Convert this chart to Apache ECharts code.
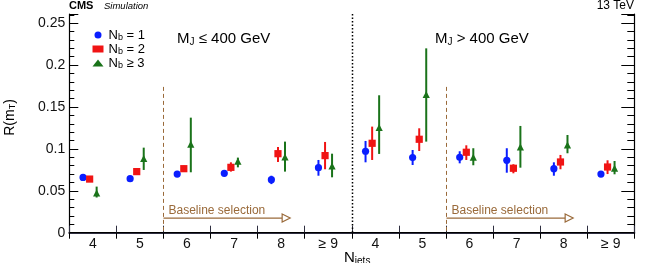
<!DOCTYPE html>
<html>
<head>
<meta charset="utf-8">
<script src="https://cdn.jsdelivr.net/npm/echarts@6/dist/echarts.min.js"></script>
<style>
html,body{margin:0;padding:0;background:#fff;}
#chart{width:648px;height:263px;}
</style>
</head>
<body>
<div id="chart"></div>
<script>
// ---- data ----
const categories = ['4', '5', '6', '7', '8', '≥ 9', '4', '5', '6', '7', '8', '≥ 9'];
const yTicks = [0, 0.05, 0.1, 0.15, 0.2, 0.25];

const nb1Val = [0.066, 0.0645, 0.070, 0.0709, 0.0633, 0.0776, 0.0972, 0.0896, 0.090, 0.0864, 0.0764, 0.070];
const nb1Lo  = [0.064, 0.062, 0.0675, 0.068, 0.058, 0.068, 0.084, 0.0808, 0.0828, 0.0716, 0.068, 0.067];
const nb1Hi  = [0.068, 0.067, 0.0725, 0.074, 0.068, 0.0868, 0.1095, 0.0987, 0.0972, 0.1008, 0.084, 0.073];

const nb2Val = [0.064, 0.0729, 0.0764, 0.078, 0.0943, 0.092, 0.1067, 0.1115, 0.096, 0.0769, 0.0844, 0.0784];
const nb2Lo  = [0.061, 0.070, 0.073, 0.0729, 0.0844, 0.0757, 0.0868, 0.0975, 0.0868, 0.0709, 0.0757, 0.070];
const nb2Hi  = [0.067, 0.076, 0.080, 0.084, 0.1023, 0.1083, 0.1266, 0.1246, 0.1043, 0.0817, 0.0928, 0.0864];

const nb3Val = [0.0466, 0.0876, 0.1047, 0.0844, 0.0896, 0.0788, 0.1246, 0.164, 0.0892, 0.1015, 0.1039, 0.076];
const nb3Lo  = [0.042, 0.0749, 0.0721, 0.078, 0.0729, 0.0661, 0.094, 0.1087, 0.0805, 0.0776, 0.0948, 0.0697];
const nb3Hi  = [0.055, 0.1015, 0.1373, 0.0896, 0.1087, 0.0943, 0.164, 0.220, 0.1008, 0.1274, 0.1166, 0.0856];

// boundaries (between category i and i+1)
const separatorAfter = [5];
const baselineAfter = [1, 7];

// ---- styling ----
const FONT = 'Liberation Sans, Arial, Helvetica, sans-serif';
const BLUE = '#0a1eff', RED = '#f01414', GREEN = '#1a731a', BROWN = '#9a6a3a';
const YMAX = 0.261;

function pointSeries(name, vals, lo, hi, color, shape, dx) {
  return {
    type: 'custom',
    name: name,
    xAxisIndex: 0, yAxisIndex: 0,
    itemStyle: { color: color },
    z: 5,
    data: vals.map((v, i) => [i, v, lo[i], hi[i]]),
    renderItem: function (params, api) {
      const x = api.value(0);
      const p = api.coord([x, api.value(1)]);
      const l = api.coord([x, api.value(2)]);
      const h = api.coord([x, api.value(3)]);
      const cx = p[0] + dx, cy = p[1];
      let marker;
      if (shape === 'circle') {
        marker = { type: 'circle', shape: { cx: cx, cy: cy, r: 3.6 }, style: { fill: color } };
      } else if (shape === 'rect') {
        marker = { type: 'rect', shape: { x: cx - 3.6, y: cy - 3.6, width: 7.2, height: 7.2 }, style: { fill: color } };
      } else {
        marker = { type: 'polygon', shape: { points: [[cx, cy - 4.2], [cx - 3.6, cy + 2.8], [cx + 3.6, cy + 2.8]] }, style: { fill: color } };
      }
      return {
        type: 'group',
        children: [
          { type: 'line', shape: { x1: cx, y1: l[1], x2: cx, y2: h[1] }, style: { stroke: color, lineWidth: 2 } },
          marker
        ]
      };
    }
  };
}

const decoSeries = {
  type: 'custom',
  name: 'deco',
  silent: true,
  z: 2,
  data: [0],
  renderItem: function (params, api) {
    const cs = params.coordSys;
    const children = [];
    const bx = i => (api.coord([i, 0])[0] + api.coord([i + 1, 0])[0]) / 2;
    separatorAfter.forEach(i => {
      const x = Math.round(bx(i)) + 0.5;
      children.push({ type: 'line', shape: { x1: x, y1: cs.y, x2: x, y2: cs.y + cs.height },
        style: { stroke: '#000', lineWidth: 1.5, lineDash: [1.5, 2] } });
    });
    const bw = api.size([1, 0])[0];
    baselineAfter.forEach(i => {
      const x = Math.round(bx(i)) + 0.5;
      const yTop = api.coord([i, 0.174])[1];
      const y0 = api.coord([i, 0])[1];
      const yA = api.coord([i, 0.0175])[1];
      const xEnd = x + bw * 2.69;
      children.push({ type: 'line', shape: { x1: x, y1: yTop, x2: x, y2: y0 },
        style: { stroke: BROWN, lineWidth: 1, lineDash: [4, 3] } });
      children.push({ type: 'line', shape: { x1: x, y1: yA, x2: xEnd - 8, y2: yA },
        style: { stroke: BROWN, lineWidth: 1.2 } });
      children.push({ type: 'polygon', shape: { points: [[xEnd - 8, yA - 4], [xEnd, yA], [xEnd - 8, yA + 4]] },
        style: { fill: '#fff', stroke: BROWN, lineWidth: 1.2 } });
      children.push({ type: 'text', x: x + 5, y: yA - 1.5,
        style: { text: 'Baseline selection', font: '12px ' + FONT, fill: BROWN, align: 'left', verticalAlign: 'bottom' } });
    });
    return { type: 'group', children: children };
  }
};

const chart = echarts.init(document.getElementById('chart'), null, { renderer: 'canvas' });

const legendNames = { nb1: 'N{sub|b} = 1', nb2: 'N{sub|b} = 2', nb3: 'N{sub|b} ≥ 3' };

chart.setOption({
  animation: false,
  backgroundColor: '#fff',
  textStyle: { fontFamily: FONT },
  grid: { left: 69.3, right: 13.7, top: 14, bottom: 30.3, containLabel: false },
  legend: {
    orient: 'vertical',
    left: 87.5, top: 23.5,
    itemWidth: 11, itemHeight: 7, itemGap: 0,
    data: [{ name: 'nb1', icon: 'circle' }, { name: 'nb2', icon: 'rect' }, { name: 'nb3', icon: 'triangle' }],
    formatter: n => legendNames[n],
    textStyle: {
      fontSize: 13, color: '#000', fontFamily: FONT, lineHeight: 13,
      rich: { sub: { fontSize: 9, fontFamily: FONT, color: '#000', padding: [6, 0, 0, 0] } }
    },
    selectedMode: false
  },
  xAxis: [
    {
      type: 'category', data: categories, position: 'bottom', boundaryGap: true,
      axisLine: { show: true, lineStyle: { color: '#2e2e40', width: 2 } },
      axisTick: { show: true, inside: true, length: 7, lineStyle: { color: '#2e2e40', width: 1 } },
      axisLabel: { fontSize: 14, color: '#111', margin: 4, fontFamily: FONT, interval: 0 },
      splitLine: { show: false }
    },
    {
      type: 'category', data: categories, position: 'top', boundaryGap: true,
      axisLine: { show: true, lineStyle: { color: '#000', width: 1 } },
      axisTick: { show: true, inside: true, length: 6, lineStyle: { color: '#000', width: 1 } },
      axisLabel: { show: false },
      splitLine: { show: false }
    }
  ],
  yAxis: [
    {
      type: 'value', min: 0, max: YMAX, interval: 0.05, position: 'left',
      axisLine: { show: true, lineStyle: { color: '#000', width: 1.2 } },
      axisTick: { show: true, inside: true, length: 9, lineStyle: { color: '#000' } },
      minorTick: { show: true, splitNumber: 5, length: 5, lineStyle: { color: '#000' } },
      axisLabel: {
        fontSize: 14, color: '#111', margin: 4, fontFamily: FONT, showMaxLabel: false,
        formatter: v => (yTicks.some(t => Math.abs(t - v) < 1e-9) ? String(+v.toFixed(2)) : '')
      },
      splitLine: { show: false }
    },
    {
      type: 'value', min: 0, max: YMAX, interval: 0.05, position: 'right',
      axisLine: { show: true, lineStyle: { color: '#000', width: 1.2 } },
      axisTick: { show: true, inside: true, length: 13, lineStyle: { color: '#000' } },
      minorTick: { show: true, splitNumber: 5, length: 7, lineStyle: { color: '#000' } },
      axisLabel: { show: false },
      splitLine: { show: false }
    }
  ],
  graphic: [
    { type: 'text', left: 69, top: 0, style: { text: 'CMS', font: 'bold 11px ' + FONT, fill: '#000' } },
    { type: 'text', left: 104, top: 1.5, style: { text: 'Simulation', font: 'italic 9.5px ' + FONT, fill: '#000' } },
    { type: 'text', right: 14, top: 0, style: { text: '13 TeV', font: '12px ' + FONT, fill: '#000' } },
    { type: 'text', left: 177, top: 31, style: { text: 'M{sub|J} ≤ 400 GeV', font: '15px ' + FONT, fill: '#000',
        rich: { sub: { fontSize: 10, fontFamily: FONT, padding: [7, 0, 0, 0] } } } },
    { type: 'text', left: 435, top: 31, style: { text: 'M{sub|J} > 400 GeV', font: '15px ' + FONT, fill: '#000',
        rich: { sub: { fontSize: 10, fontFamily: FONT, padding: [7, 0, 0, 0] } } } },
    { type: 'text', left: 344, top: 250, style: { text: 'N{sub|jets}', font: '15px ' + FONT, fill: '#000',
        rich: { sub: { fontSize: 10, fontFamily: FONT, padding: [7, 0, 0, 0] } } } },
    { type: 'text', x: 10, y: 117.5, rotation: Math.PI / 2,
      style: { text: 'R(m{sub|T})', font: '14px ' + FONT, fill: '#000', align: 'center', verticalAlign: 'middle',
        rich: { sub: { fontSize: 9, fontFamily: FONT, padding: [6, 0, 0, 0] } } } }
  ],
  series: [
    decoSeries,
    pointSeries('nb1', nb1Val, nb1Lo, nb1Hi, BLUE, 'circle', -9.8),
    pointSeries('nb2', nb2Val, nb2Lo, nb2Hi, RED, 'rect', -3.2),
    pointSeries('nb3', nb3Val, nb3Lo, nb3Hi, GREEN, 'triangle', 3.8)
  ]
});
</script>
</body>
</html>
